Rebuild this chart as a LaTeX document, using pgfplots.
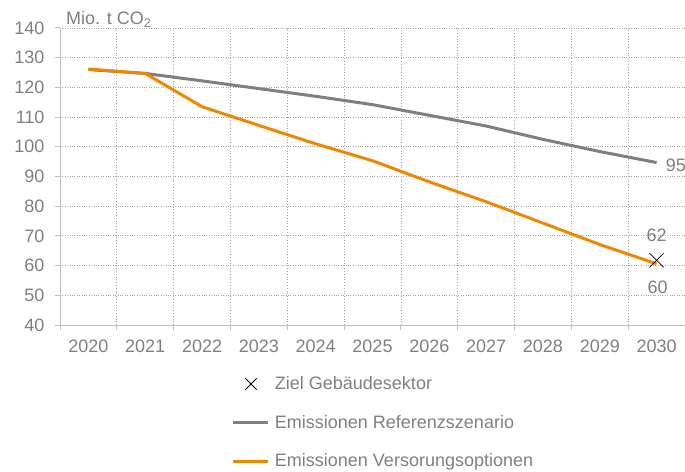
\documentclass[border=0pt]{standalone}
\usepackage{pgfplots}
\pgfplotsset{compat=1.18}
\usepackage{fontspec}
\setmainfont{Liberation Sans}
\definecolor{txtgray}{HTML}{7F7F7F}
\definecolor{refgray}{HTML}{7F7F7F}
\definecolor{optorange}{HTML}{EE8800}
\definecolor{axgray}{HTML}{BFBFBF}
\definecolor{gridgray}{HTML}{A6A6A6}
\newcommand\f{\fontsize{18}{21}\selectfont}
\begin{document}
\begin{tikzpicture}
\begin{axis}[
  at={(60pt,146pt)}, anchor=south west,
  scale only axis, width=625pt, height=297pt,
  xmin=-0.5, xmax=10.5, ymin=40, ymax=140,
  axis lines*=left,
  axis line style={axgray, line width=1pt},
  xtick={0,...,10},
  xticklabels={2020,2021,2022,2023,2024,2025,2026,2027,2028,2029,2030},
  minor xtick={-0.5,0.5,...,10.5},
  ytick={40,50,...,140},
  major x tick style={draw=none},
  minor x tick style={axgray, line width=1pt},
  y tick style={axgray, line width=1pt},
  tick align=outside,
  major tick length=5pt, minor tick length=5pt,
  xminorgrids=true, ymajorgrids=true, xmajorgrids=false,
  grid style={gridgray, dotted, line width=0.8pt},
  minor grid style={gridgray, dotted, line width=0.8pt},
  tick label style={font=\f, text=txtgray},
  /pgf/number format/assume math mode=true,
  yticklabel style={xshift=-7pt},
  xticklabel style={yshift=-6pt},
  legend style={at={(0.27,-0.16)}, anchor=north west, draw=none, fill=none,
    font=\f, text=txtgray, row sep=20pt,
    /tikz/every odd column/.style={column sep=3pt}},
  legend cell align=left,
  legend image code/.code={\draw[mark repeat=2,mark phase=2,#1] plot coordinates {(0pt,0pt) (17.5pt,0pt) (35pt,0pt)};},
  clip=false,
]
\addlegendimage{only marks, mark=x, mark size=8pt, black, line width=0.8pt}
\addlegendentry{Ziel Gebäudesektor}
\addplot[refgray, line width=3pt, line join=round] coordinates {
(0,126.0) (1,124.7) (2,122.2) (3,119.6) (4,117.0) (5,114.2) (6,110.6) (7,107.0) (8,102.5) (9,98.4) (10,94.7)};
\addlegendentry{Emissionen Referenzszenario}
\addplot[optorange, line width=3pt, line join=round] coordinates {
(0,126.2) (1,124.7) (2,113.5) (3,107.2) (4,101.0) (5,95.3) (6,88.2) (7,81.5) (8,74.3) (9,67.1) (10,60.6)};
\addlegendentry{Emissionen Versorungsoptionen}
\addplot[only marks, mark=x, mark size=10pt, black, line width=0.8pt, forget plot] coordinates {(10,61.8)};
\node[font=\f, text=txtgray, anchor=west] at (axis cs:10.1,93.8) {95};
\node[font=\f, text=txtgray] at (axis cs:10,70.2) {62};
\node[font=\f, text=txtgray] at (axis cs:10.02,52.8) {60};
\node[font=\f, text=txtgray, anchor=south west, inner sep=0pt] at (rel axis cs:0,1) [xshift=6pt, yshift=0pt] {Mio. t CO\textsubscript{2}};
\end{axis}
\pgfresetboundingbox
\path[use as bounding box] (0,0) rectangle (685pt,471pt);
\end{tikzpicture}
\end{document}
